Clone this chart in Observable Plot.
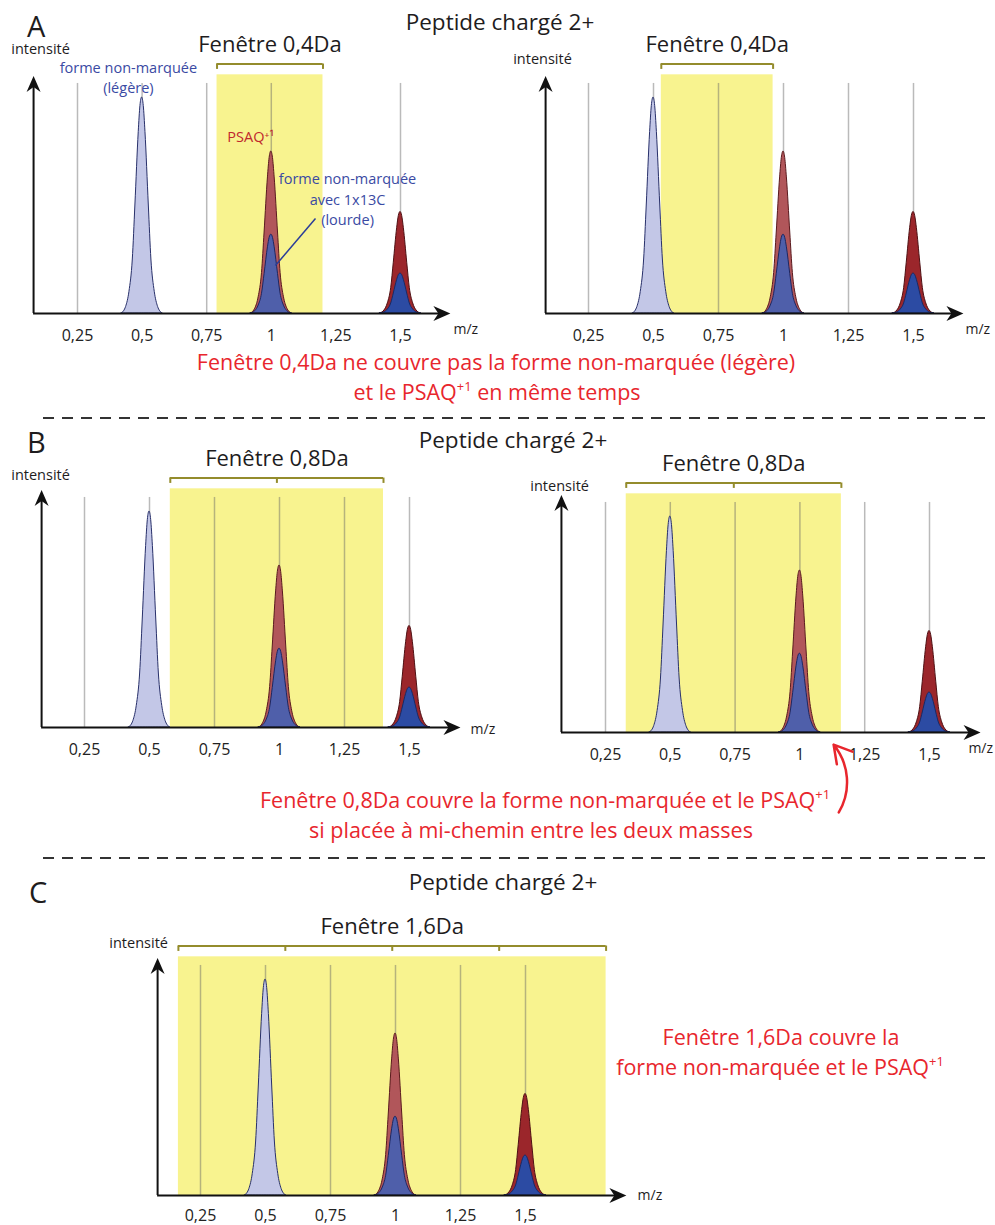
<!DOCTYPE html>
<html><head><meta charset="utf-8">
<script src="https://cdn.jsdelivr.net/npm/d3@7"></script>
<script src="https://cdn.jsdelivr.net/npm/@observablehq/plot@0.6"></script>
<style>
body{margin:0;background:#fff;}
#page{position:relative;width:995px;height:1225px;overflow:hidden;font-family:"Open Sans",sans-serif;}
#page svg{position:absolute;}
</style></head><body><div id="page"></div>
<script>
// ---------- data ----------
const tickValues = [0.25, 0.5, 0.75, 1, 1.25, 1.5];
const tickLabels = ["0,25", "0,5", "0,75", "1", "1,25", "1,5"];

// peaks (m/z centre, intensity as % of the light form)
const peakSeries = ["non-marquée (légère)", "PSAQ+1", "non-marquée 1x13C (lourde)", "PSAQ+1 (isotope)", "non-marquée 1x13C (isotope)"];
const peakCenters = [0.5, 1.0, 1.0, 1.5, 1.5];
const peakHeights = [100, 75, 36.5, 47, 18.5];

// peak profile (offset in m/z, fraction of peak height)
const profileOffsets   = [-0.08, -0.07, -0.062, -0.049, -0.036, -0.026, -0.013, -0.0065, 0, 0.0065, 0.013, 0.026, 0.036, 0.049, 0.062, 0.07, 0.08];
const profileFractions = [0, 0.01, 0.03, 0.1, 0.25, 0.5, 0.84, 0.96, 1, 0.96, 0.84, 0.5, 0.25, 0.1, 0.03, 0.01, 0];

// isolation windows per panel (A left, A right, B left, B right, C)
const windowStart = [0.79, 0.53, 0.58, 0.33, 0.165];
const windowEnd   = [1.20, 0.96, 1.40, 1.16, 1.81];
const windowLabels = ["Fenêtre 0,4Da", "Fenêtre 0,4Da", "Fenêtre 0,8Da", "Fenêtre 0,8Da", "Fenêtre 1,6Da"];
const bracketSegments = [1, 1, 2, 2, 4];
const gridValues = [[0.25, 0.5, 0.75, 1, 1.5], tickValues, tickValues, tickValues, tickValues];

// axes per panel (m/z of the intensity axis, m/z of the arrow end)
const axisOrigin = [0.080, 0.085, 0.085, 0.080, 0.085];
const axisEnd    = [1.693, 1.692, 1.696, 1.697, 1.888];
const intensityLabelX = [0.107, 0.073, 0.081, 0.073, 0.012];
const intensityLabelY = [120, 115.7, 114.4, 111.6, 114.4];
const mzLabelX = [1.705, 1.700, 1.735, 1.650, 1.931];
const mzLabelY = [-9.3, -9.3, -2.8, -9.7, -2.3];

// ---------- styles / layout ----------
const peakStyle = [
  {fill: "#c3c7e7", stroke: "#28306a"},
  {fill: "#b1565a", stroke: "#5a1a1e"},
  {fill: "#4f5faa", stroke: "#1d2762"},
  {fill: "#9b262b", stroke: "#4e1013"},
  {fill: "#2c4ba3", stroke: "#182a66"}
];
const layout = [
  {left: 0,   top: 0,   width: 490, height: 350, mL: 77,  mR: 90,  mT: 97,  mB: 37, pad: 16},
  {left: 490, top: 0,   width: 505, height: 350, mL: 98,  mR: 82,  mT: 97,  mB: 37, pad: 16},
  {left: 0,   top: 420, width: 490, height: 345, mL: 84,  mR: 81,  mT: 91,  mB: 38, pad: 16},
  {left: 490, top: 420, width: 505, height: 400, mL: 115, mR: 66,  mT: 96,  mB: 88, pad: 16},
  {left: 0,   top: 860, width: 700, height: 365, mL: 200, mR: 175, mT: 119, mB: 30, pad: 14}
];
const YELLOW = "#f8f38f", OLIVE = "#948c2c", INK = "#1e1c1d", BLUE = "#3a4aa3", RED = "#e8262d", DARKRED = "#c0272d";
const FONT = "'Open Sans', sans-serif";

const stealthUp = {draw(ctx) { ctx.moveTo(0, 0); ctx.lineTo(7, 16); ctx.lineTo(0, 11); ctx.lineTo(-7, 16); ctx.closePath(); }};
const stealthRight = {draw(ctx) { ctx.moveTo(0, 0); ctx.lineTo(-17, -7.5); ctx.lineTo(-12, 0); ctx.lineTo(-17, 7.5); ctx.closePath(); }};

const page = document.getElementById("page");

function peakRows(k) {
  return profileOffsets.map((o, j) => ({x: peakCenters[k] + o, y: peakHeights[k] * profileFractions[j], s: peakSeries[k]}));
}

function panel(i) {
  const L = layout[i];
  const ws = windowStart[i], we = windowEnd[i];
  const segs = bracketSegments[i];
  const bracketTicks = d3.range(segs + 1).map(j => ws + (we - ws) * j / segs);
  const marks = [
    Plot.rect([0], {x1: ws, x2: we, y1: 0, y2: 110.5, fill: YELLOW}),
    Plot.ruleX(gridValues[i], {y1: 0, y2: 106.5, stroke: "#666", strokeOpacity: 0.45, strokeWidth: 1.5}),
    ...peakSeries.map((s, k) => Plot.areaY(peakRows(k), {x: "x", y: "y", curve: "monotone-x", fill: peakStyle[k].fill, stroke: peakStyle[k].stroke, strokeWidth: 1})),
    Plot.ruleY([115.5], {x1: ws, x2: we, stroke: OLIVE, strokeWidth: 2}),
    Plot.ruleX(bracketTicks, {y1: 113, y2: 115.5, stroke: OLIVE, strokeWidth: 2}),
    Plot.text([windowLabels[i]], {x: (ws + we) / 2, y: 121, text: d => d, lineAnchor: "bottom", fontSize: 22, fill: INK}),
    Plot.ruleX([axisOrigin[i]], {y1: 0, y2: 108, stroke: "#111", strokeWidth: 2}),
    Plot.ruleY([0], {x1: axisOrigin[i], x2: axisEnd[i] - 0.02, stroke: "#111", strokeWidth: 2}),
    Plot.dot([0], {x: axisOrigin[i], y: 110, symbol: stealthUp, fill: "#111", stroke: "none"}),
    Plot.dot([0], {x: axisEnd[i], y: 0, symbol: stealthRight, fill: "#111", stroke: "none"}),
    Plot.text(["intensité"], {x: intensityLabelX[i], y: intensityLabelY[i], text: d => d, lineAnchor: "bottom", fontSize: 14.5, fill: INK}),
    Plot.text(["m/z"], {x: mzLabelX[i], y: mzLabelY[i], text: d => d, textAnchor: "start", lineAnchor: "bottom", fontSize: 14, fill: INK}),
    Plot.axisX({ticks: tickValues, tickFormat: d => tickLabels[tickValues.indexOf(d)], tickSize: 0, tickPadding: L.pad, fontSize: 16, color: "#222", label: null})
  ];
  if (i === 0) {
    marks.push(
      Plot.text(["forme non-marquée\n(légère)"], {x: 0.447, y: 101.9, text: d => d, lineAnchor: "bottom", lineHeight: 1.38, fontSize: 14.5, fill: BLUE}),
      Plot.text(["PSAQ⁺¹"], {x: 0.83, y: 79.2, text: d => d, textAnchor: "start", lineAnchor: "bottom", fontSize: 14.5, fill: DARKRED}),
      Plot.text(["forme non-marquée\navec 1x13C\n(lourde)"], {x: 1.295, y: 41.2, text: d => d, lineAnchor: "bottom", lineHeight: 1.38, fontSize: 14.5, fill: BLUE}),
      Plot.link([0], {x1: 1.171, y1: 44.0, x2: 1.016, y2: 22.2, stroke: "#2b3d99", strokeWidth: 1.5})
    );
  }
  if (i === 3) {
    marks.push(Plot.arrow([0], {x1: 1.150, y1: -37, x2: 1.130, y2: -5.6, bend: -35, stroke: RED, strokeWidth: 2.5, headLength: 12}));
  }
  const svg = Plot.plot({
    width: L.width, height: L.height,
    marginLeft: L.mL, marginRight: L.mR, marginTop: L.mT, marginBottom: L.mB,
    x: {domain: [0.25, 1.5], label: null},
    y: {domain: [0, 100], axis: null},
    style: {background: "transparent", overflow: "visible", fontFamily: FONT},
    marks
  });
  svg.style.left = L.left + "px";
  svg.style.top = L.top + "px";
  page.appendChild(svg);
}
for (let i = 0; i < 5; i++) panel(i);

// ---------- overlay: panel letters, titles, captions, separators ----------
const ov = d3.create("svg").attr("width", 995).attr("height", 1225)
  .style("left", "0px").style("top", "0px").style("pointer-events", "none")
  .attr("font-family", FONT);

function label(x, y, segments, size, fill, anchor = "middle") {
  const t = ov.append("text").attr("x", x).attr("y", y).attr("font-size", size).attr("fill", fill).attr("text-anchor", anchor);
  for (const s of segments) {
    if (typeof s === "string") t.append("tspan").text(s);
    else t.append("tspan").attr("baseline-shift", "super").attr("font-size", "0.6em").text(s.sup);
  }
}
[["A", 27, 37], ["B", 27, 453], ["C", 29, 903]].forEach(([t, x, y]) => label(x, y, [t], 29, INK, "start"));
[[500, 30], [513, 448], [503, 890]].forEach(([x, y]) => label(x, y, ["Peptide chargé 2+"], 22.5, INK));

label(496, 370, ["Fenêtre 0,4Da ne couvre pas la forme non-marquée (légère)"], 21.5, RED);
label(497, 400, ["et le PSAQ", {sup: "+1"}, " en même temps"], 21.5, RED);
label(545, 808, ["Fenêtre 0,8Da couvre la forme non-marquée et le PSAQ", {sup: "+1"}], 21.5, RED);
label(531, 838, ["si placée à mi-chemin entre les deux masses"], 21.5, RED);
label(781, 1045, ["Fenêtre 1,6Da couvre la"], 21.5, RED);
label(780, 1075, ["forme non-marquée et le PSAQ", {sup: "+1"}], 21.5, RED);

[418, 858].forEach(y => ov.append("line").attr("x1", 43).attr("x2", 985).attr("y1", y).attr("y2", y)
  .attr("stroke", "#333").attr("stroke-width", 2).attr("stroke-dasharray", "11 8"));

page.appendChild(ov.node());
</script></body></html>
